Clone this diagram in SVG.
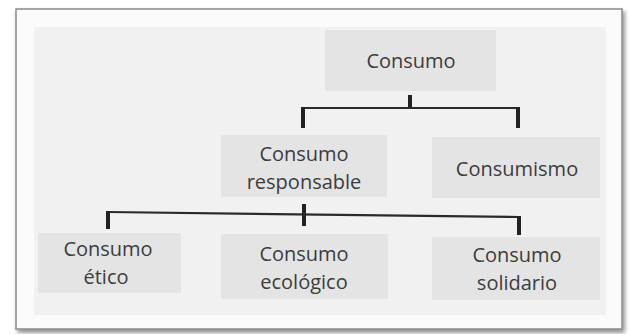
<svg xmlns="http://www.w3.org/2000/svg" width="629" height="334" viewBox="0 0 629 334">
<defs>
<filter id="sh" x="-5%" y="-5%" width="110%" height="115%"><feDropShadow dx="2" dy="3" stdDeviation="2" flood-color="#000" flood-opacity="0.45"/></filter>
<style>
.box{fill:#e4e4e4}
.t{font-family:"Open Sans","Noto Sans",sans-serif;font-size:20px;fill:#3c3c3c;text-anchor:middle}
.h{stroke:#2a2a2a;stroke-width:2.2;fill:none}
.v{stroke:#222;stroke-width:4;fill:none}
</style>
</defs>
<rect width="629" height="334" fill="#ffffff"/>
<rect x="16" y="9" width="606" height="320" fill="#fbfbfb" stroke="#8a8a8a" stroke-width="1.5" filter="url(#sh)"/>
<rect x="34" y="27" width="572" height="288" fill="#f1f1f1"/>
<g id="connectors">
<path class="v" d="M410 95V108"/>
<path class="h" d="M303 108H518"/>
<path class="v" d="M303 107V128M518 107V128"/>
<path class="v" d="M304 204V226"/>
<path class="h" d="M108 212L519 217"/>
<path class="v" d="M108 211V229M519 216V235"/>
</g>
<g id="consumo"><rect class="box" x="325" y="30" width="171" height="61"/><text class="t" x="411" y="68">Consumo</text></g>
<g id="responsable"><rect class="box" x="221" y="135" width="166" height="62"/><text class="t" x="304" y="160.5">Consumo</text><text class="t" x="304" y="188.5">responsable</text></g>
<g id="consumismo"><rect class="box" x="432" y="137" width="168" height="61"/><text class="t" x="517" y="176">Consumismo</text></g>
<g id="etico"><rect class="box" x="38" y="233" width="143" height="60"/><text class="t" x="108" y="255.5">Consumo</text><text class="t" x="106" y="283.5">ético</text></g>
<g id="ecologico"><rect class="box" x="221" y="234" width="167" height="65"/><text class="t" x="304" y="260.5">Consumo</text><text class="t" x="304" y="288.5">ecológico</text></g>
<g id="solidario"><rect class="box" x="432" y="237" width="168" height="63"/><text class="t" x="517" y="262">Consumo</text><text class="t" x="517" y="290">solidario</text></g>
</svg>
